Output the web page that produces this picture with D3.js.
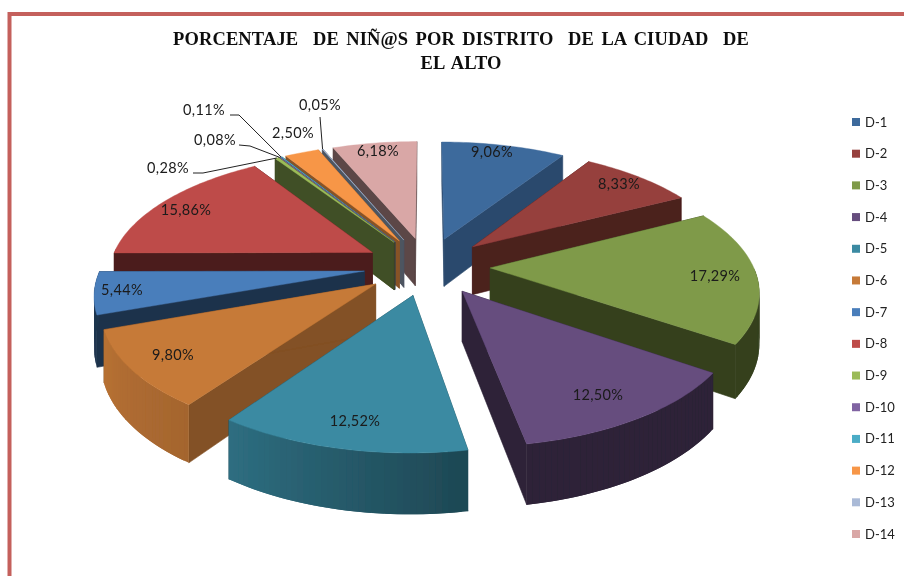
<!DOCTYPE html>
<html><head><meta charset="utf-8">
<script src="https://cdn.jsdelivr.net/npm/d3@7"></script>
<style>html,body{margin:0;padding:0;background:#fff}svg{display:block}</style>
</head><body><svg id="c" width="904" height="576"></svg>
<script>
const titleLines = ["PORCENTAJE  DE NIÑ@S POR DISTRITO  DE LA CIUDAD  DE", "EL ALTO"];
const districts = ["D-1","D-2","D-3","D-4","D-5","D-6","D-7","D-8","D-9","D-10","D-11","D-12","D-13","D-14"];
const percents = [9.06,8.33,17.29,12.50,12.52,9.80,5.44,15.86,0.28,0.08,0.11,2.50,0.05,6.18];
const topColors = ["#3E6A9C","#963F3C","#7F9A48","#664D7E","#3A8AA2","#C67A38","#4A7EBB","#BE4B48","#9BBB59","#8064A2","#4BACC6","#F79646","#AABAD7","#D9A7A6"];
const edgeShade = [.70,.50,.42,.44,.55,.66,.40,.40,.42,.42,.42,.55,.45,.42];
const arcShadeFrom = [.70,.50,.42,.44,.52,.83,.42,.40,.42,.42,.42,.55,.45,.42];
const arcShadeTo   = [.70,.50,.42,.44,.80,.93,.42,.40,.42,.42,.42,.55,.45,.42];
const labelX = [492,619,715,598,355,173,122,186,168,215,204,293,320,378];
const labelY = [152,184,276,395,421,355,290,210,168,140,110,133,105,151];
const leaderElbow = {8:[[193,173],[203,173]],9:[[239,145],[250,146]],10:[[230,115],[239,115]],12:[[320,117]]};

const cx=427, cy=266, rx=263, ry=121, persp=.163, explode=.24, depth=49;
const svg=d3.select("#c");
const defs=svg.append("defs");
defs.append("filter").attr("id","soft").attr("x",0).attr("y",0).attr("width",1).attr("height",1)
  .append("feGaussianBlur").attr("stdDeviation",.45);
const root=svg.append("g").attr("filter","url(#soft)");
root.append("rect").attr("width",904).attr("height",576).attr("fill","#fff");
root.append("rect").attr("x",9.5).attr("y",14).attr("width",1000).attr("height",700)
  .attr("fill","#fff").attr("stroke","#C4605C").attr("stroke-width",4);

const project=(X,Y,z=0)=>{const f=1/(1-persp*Y);return [cx+X*rx*f, cy+Y*ry*f+z*depth*f];};
const line=d3.line();
const pie=d3.pie().sort(null).value(d=>d)(percents);
const shade=(c,k)=>{const r=d3.rgb(c);return d3.rgb(r.r*k,r.g*k,r.b*k).formatHex();};

const slices=pie.map((p,i)=>{
  const mid=(p.startAngle+p.endAngle)/2;
  const ox=explode*Math.sin(mid), oy=-explode*Math.cos(mid);
  const n=Math.max(2,Math.ceil((p.endAngle-p.startAngle)/.02));
  const angles=d3.range(n+1).map(k=>p.startAngle+(p.endAngle-p.startAngle)*k/n);
  const plane=angles.map(a=>[ox+Math.sin(a),oy-Math.cos(a)]);
  return {i,mid,ox,oy,angles,plane,order:-Math.cos(mid)};
}).sort((a,b)=>a.order-b.order);

const g=root.append("g");
slices.forEach(s=>{
  const base=topColors[s.i], apex=[s.ox,s.oy];
  const wall=(a,b,col,sw)=>g.append("path")
    .attr("d",line([project(a[0],a[1]),project(b[0],b[1]),project(b[0],b[1],1),project(a[0],a[1],1)])+"Z")
    .attr("fill",col).attr("stroke",sw?col:"none").attr("stroke-width",sw||0);
  const ec=shade(base,edgeShade[s.i]);
  wall(apex,s.plane[0],ec,.6);
  wall(apex,s.plane[s.plane.length-1],ec,.6);
  const m=s.plane.length-1;
  // only the rim that faces the viewer is drawn; each band overlaps the next so no seams show
  s.plane.slice(0,-1).forEach((pt,k)=>{
    if(-Math.cos(s.angles[k+1])<0 && -Math.cos(s.angles[k])<0) return;
    const t=k/m, sh=arcShadeFrom[s.i]+(arcShadeTo[s.i]-arcShadeFrom[s.i])*t;
    wall(pt,s.plane[Math.min(k+2,m)],shade(base,sh));
  });
  g.append("path")
    .attr("d",line([apex,...s.plane].map(q=>project(q[0],q[1])))+"Z")
    .attr("fill",base).attr("stroke",base).attr("stroke-width",.4);
});

// leader lines run from the labels to the rim of their slices
const rim=i=>{const s=slices.find(d=>d.i===i);const q=s.plane[Math.floor(s.plane.length/2)];return project(q[0],q[1]);};
Object.keys(leaderElbow).forEach(k=>{
  root.append("path").attr("d",line([...leaderElbow[k],rim(+k)])).attr("fill","none")
    .attr("stroke","#222").attr("stroke-width",1);
});

const fmt=d3.format(".2f");
root.append("g").selectAll("text").data(percents).join("text")
  .attr("x",(d,i)=>labelX[i]).attr("y",(d,i)=>labelY[i]+5)
  .attr("text-anchor","middle").attr("font-family","Lato").attr("font-size",14.5)
  .attr("letter-spacing",.35).attr("fill","#1a1a1a")
  .text(d=>fmt(d).replace(".",",")+"%");

const ly=d3.scalePoint().domain(districts).range([122,534]);
const leg=root.append("g");
leg.selectAll("rect").data(districts).join("rect")
  .attr("x",852).attr("y",d=>ly(d)-4).attr("width",8).attr("height",8)
  .attr("fill",(d,i)=>topColors[i]);
leg.selectAll("text").data(districts).join("text")
  .attr("x",865).attr("y",d=>ly(d)+4.5).attr("font-family","Lato").attr("font-size",13).attr("fill","#222").text(d=>d);

root.append("g").selectAll("text").data(titleLines).join("text")
  .attr("x",461).attr("y",(d,i)=>45+i*24).attr("text-anchor","middle")
  .attr("font-family","Liberation Serif").attr("font-weight","bold").attr("font-size",18.5)
  .attr("word-spacing",2.6).attr("letter-spacing",.12)
  .attr("fill","#111").style("white-space","pre").text(d=>d);
</script></body></html>
